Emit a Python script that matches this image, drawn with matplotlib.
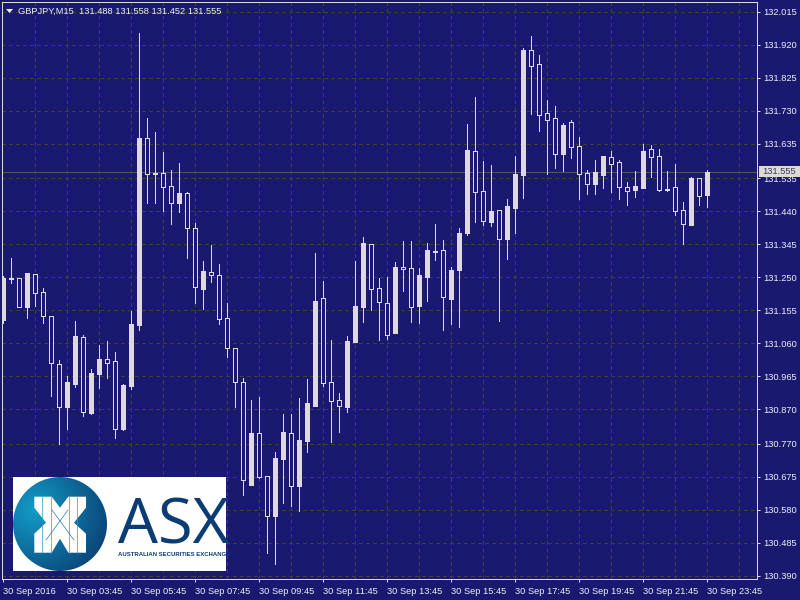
import matplotlib
matplotlib.use("Agg")
import matplotlib.pyplot as plt
import numpy as np
from matplotlib.patches import Circle, Polygon, Rectangle

plt.rcParams["font.family"] = ["Liberation Sans", "DejaVu Sans"]

BG = "#191970"
FG = "#dedbd6"
TEXT = "#eeeef6"
GRID = "#40402f"
VGRID = "#3e3e4c"
LOGO_BLUE = "#0b3c74"
PX = 0.72  # one pixel in points at dpi 100
FONT = 6.7

opens = [131.127, 131.248, 131.248, 131.164, 131.259, 131.207, 131.139, 130.999, 130.876, 130.942,
         131.078, 130.858, 130.971, 131.014, 131.008, 130.812, 130.937, 131.112, 131.652, 131.551,
         131.551, 131.513, 131.464, 131.493, 131.392, 131.216, 131.265, 131.256, 131.133, 131.046,
         130.948, 130.651, 130.801, 130.677, 130.561, 130.726, 130.801, 130.648, 130.778, 130.879,
         131.190, 130.948, 130.896, 130.876, 131.063, 131.164, 131.346, 131.219, 131.175, 131.090,
         131.279, 131.277, 131.167, 131.251, 131.326, 131.329, 131.187, 131.271, 131.378, 131.614,
         131.499, 131.409, 131.444, 131.360, 131.450, 131.545, 131.905, 131.865, 131.724, 131.709,
         131.605, 131.698, 131.629, 131.551, 131.519, 131.545, 131.597, 131.582, 131.510, 131.502,
         131.507, 131.620, 131.600, 131.504, 131.510, 131.444, 131.401, 131.536, 131.488]
closes = [131.248, 131.245, 131.164, 131.262, 131.204, 131.139, 131.002, 130.876, 130.948, 131.081,
          130.861, 130.974, 131.014, 131.002, 130.812, 130.939, 131.115, 131.652, 131.548, 131.548,
          131.510, 131.464, 131.493, 131.392, 131.222, 131.268, 131.256, 131.130, 131.046, 130.948,
          130.665, 130.801, 130.674, 130.561, 130.729, 130.804, 130.648, 130.781, 130.887, 131.181,
          130.945, 130.893, 130.879, 131.066, 131.167, 131.349, 131.216, 131.178, 131.084, 131.279,
          131.274, 131.164, 131.256, 131.329, 131.323, 131.193, 131.271, 131.378, 131.617, 131.496,
          131.412, 131.441, 131.360, 131.455, 131.548, 131.905, 131.860, 131.718, 131.703, 131.605,
          131.689, 131.626, 131.548, 131.519, 131.553, 131.600, 131.576, 131.510, 131.499, 131.513,
          131.614, 131.597, 131.502, 131.502, 131.441, 131.403, 131.536, 131.484, 131.555]
highs = [131.254, 131.306, 131.248, 131.262, 131.259, 131.219, 131.139, 131.011, 130.966, 131.124,
         131.084, 130.985, 131.055, 131.066, 131.034, 130.942, 131.153, 131.954, 131.709, 131.669,
         131.611, 131.559, 131.579, 131.496, 131.406, 131.297, 131.343, 131.288, 131.175, 131.046,
         130.960, 130.896, 130.905, 130.677, 130.746, 130.855, 130.855, 130.902, 130.957, 131.320,
         131.239, 131.069, 130.916, 131.081, 131.297, 131.366, 131.346, 131.248, 131.251, 131.294,
         131.355, 131.355, 131.277, 131.349, 131.403, 131.357, 131.279, 131.392, 131.692, 131.770,
         131.585, 131.574, 131.444, 131.476, 131.600, 131.911, 131.946, 131.891, 131.761, 131.744,
         131.695, 131.703, 131.655, 131.559, 131.588, 131.600, 131.614, 131.588, 131.525, 131.556,
         131.634, 131.631, 131.620, 131.556, 131.576, 131.467, 131.539, 131.536, 131.558]
lows = [131.118, 131.233, 131.164, 131.133, 131.167, 131.118, 130.908, 130.769, 130.812, 130.934,
        130.850, 130.855, 130.931, 130.960, 130.786, 130.810, 130.928, 131.098, 131.464, 131.464,
        131.441, 131.403, 131.438, 131.306, 131.175, 131.158, 131.236, 131.115, 131.020, 130.876,
        130.622, 130.651, 130.671, 130.454, 130.423, 130.599, 130.590, 130.576, 130.746, 130.879,
        130.937, 130.775, 130.804, 130.861, 131.063, 131.121, 131.156, 131.069, 131.072, 131.090,
        131.210, 131.121, 131.118, 131.181, 131.300, 131.098, 131.115, 131.106, 131.372, 131.409,
        131.401, 131.398, 131.124, 131.303, 131.378, 131.479, 131.721, 131.672, 131.548, 131.565,
        131.556, 131.594, 131.476, 131.490, 131.490, 131.507, 131.496, 131.476, 131.458, 131.481,
        131.507, 131.539, 131.499, 131.499, 131.429, 131.346, 131.401, 131.458, 131.452]

price_ticks = [132.015, 131.920, 131.825, 131.730, 131.635, 131.535, 131.440, 131.345, 131.250,
               131.155, 131.060, 130.965, 130.870, 130.770, 130.675, 130.580, 130.485, 130.390]
price_labels = ["%.3f" % p for p in price_ticks]
time_ticks = list(range(0, 89, 8))
time_labels = ["30 Sep 2016", "30 Sep 03:45", "30 Sep 05:45", "30 Sep 07:45", "30 Sep 09:45", "30 Sep 11:45",
               "30 Sep 13:45", "30 Sep 15:45", "30 Sep 17:45", "30 Sep 19:45", "30 Sep 21:45", "30 Sep 23:45"]
last_price = 131.555
header = "GBPJPY,M15  131.488 131.558 131.452 131.555"

fig = plt.figure(figsize=(8, 6), dpi=100, facecolor=BG)
ax = fig.add_axes([2 / 800, 1 - 579 / 600, 755 / 800, 577 / 600], facecolor=BG)
ax.set_xlim(-0.125, 94.25)
ax.set_ylim(130.3801, 132.0438)

x = np.arange(len(opens))
o = np.array(opens)
c = np.array(closes)
up = c > o

# grid, last price line
for p in price_ticks:
    ax.axhline(p, color=GRID, lw=PX, dashes=(4, 3), zorder=1, antialiased=False)
for i in range(4, 93, 4):
    ax.axvline(i, color=VGRID, lw=PX, dashes=(4, 3), zorder=1, antialiased=False)
ax.axhline(last_price, color="#55555f", lw=PX, zorder=1.5, antialiased=False)

# candles: bull filled, bear hollow
ax.vlines(x, lows, highs, color=FG, lw=PX, zorder=2, antialiased=False)
ax.bar(x[up], (c - o)[up], 0.5, o[up], color=FG, edgecolor=FG, lw=PX, zorder=3, antialiased=False)
ax.bar(x[~up], (o - c)[~up], 0.5, c[~up], color=BG, edgecolor=FG, lw=PX, zorder=3, antialiased=False)

for s in ax.spines.values():
    s.set_color(FG)
    s.set_linewidth(PX)
ax.yaxis.tick_right()
ax.set_yticks(price_ticks, price_labels)
ax.set_xticks(time_ticks, time_labels, ha="left")
ax.tick_params(axis="y", colors=FG, labelcolor=TEXT, length=2.4, width=PX, pad=2, labelsize=FONT)
ax.tick_params(axis="x", colors=FG, labelcolor=TEXT, length=2.4, width=PX, pad=3, labelsize=FONT)

# overlay in pixel coordinates: header, price box, logo
ov = fig.add_axes([0, 0, 1, 1])
ov.set_xlim(0, 800)
ov.set_ylim(600, 0)
ov.axis("off")
ov.add_patch(Polygon([(6, 9), (13, 9), (9.5, 13)], color="#f0f0f0", lw=0))
ov.text(18, 11, header, color=TEXT, fontsize=FONT, va="center", ha="left")
ov.add_patch(Rectangle((759, 166), 41, 11, color=FG, lw=0))
ov.text(762, 171.5, "%.3f" % last_price, color="#3c3c5a", fontsize=FONT, va="center", ha="left")

ov.add_patch(Rectangle((13, 477), 213, 94, color="white", lw=0, zorder=3))
yy, xx = np.mgrid[0:1:200j, 0:1:200j]
shade = np.clip(np.hypot(xx - 0.22, yy - 0.35) / 0.95, 0, 1)
low_col = np.array([0x0a, 0x38, 0x6e]) / 255
high_col = np.array([0x12, 0x9c, 0xc6]) / 255
rgb = high_col[None, None, :] + (low_col - high_col)[None, None, :] * shade[:, :, None]
img = ov.imshow(rgb, extent=(13, 107, 571, 477), zorder=4, aspect="auto")
img.set_clip_path(Circle((60, 524), 47, transform=ov.transData))
ov.set_xlim(0, 800)
ov.set_ylim(600, 0)

mark = [(-25.7, -28), (-8.3, -28), (0, -17), (8.3, -28), (26, -28), (26, -17), (14, -2), (26, 9), (26, 28),
        (8.3, 28), (0, 14), (-8.3, 28), (-25.7, 28), (-25.7, 9), (-14, -2), (-25.7, -17)]
ov.add_patch(Polygon([(60 + a, 524.7 + b) for a, b in mark], color="white", lw=0, zorder=5))
for dx in (-18, -8.7, 8.7, 17.3):
    ov.plot([60 + dx, 60 + dx], [497, 553], color="#3a95c0", lw=0.5, zorder=6)
ov.plot([46, 68], [540, 510], color="#1a7fb0", lw=0.5, zorder=6)
ov.plot([52, 74], [510, 540], color="#1a7fb0", lw=0.5, zorder=6)

clip = Rectangle((13, 477), 213, 94, transform=ov.transData)
asx = ov.text(117.5, 543, "ASX", color=LOGO_BLUE, fontsize=45.5, family="Open Sans", va="baseline", ha="left", zorder=5)
asx.set_clip_path(clip)
sub = ov.text(118, 555, "AUSTRALIAN SECURITIES EXCHANGE", color=LOGO_BLUE, fontsize=4.3, fontweight="bold",
              va="center", ha="left", zorder=5)
sub.set_clip_path(clip)

fig.savefig("out.png", dpi=100, facecolor=BG)
